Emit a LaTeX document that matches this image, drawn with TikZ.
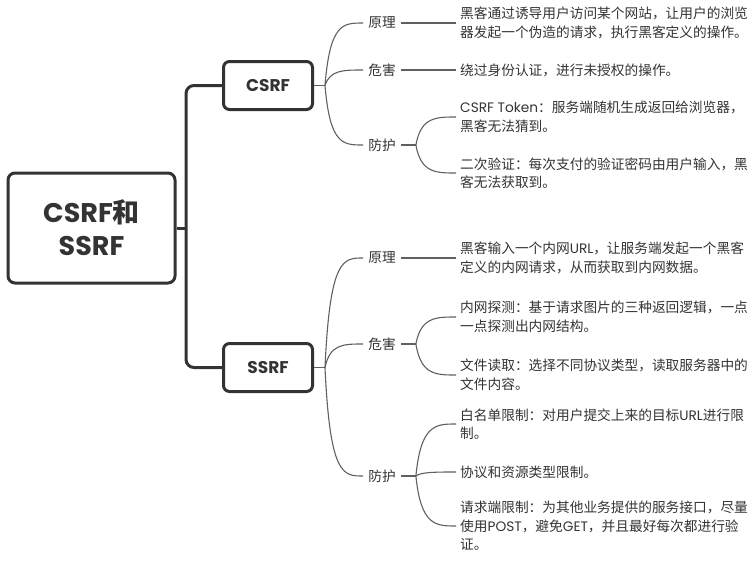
\documentclass[tikz,border=0pt]{standalone}
\usepackage{fontspec}
\setmainfont{Noto Sans CJK SC}
\newfontfamily\latfont{Poppins}
\newcommand{\lat}[1]{{\latfont #1}}
\usetikzlibrary{positioning}
\definecolor{ink}{HTML}{333333}
\definecolor{wire}{HTML}{606060}
\tikzset{
        % Central topic
        node_root/.style={draw=ink, text=ink, line width=3pt, rounded corners=7pt, align=center,
            minimum width=167pt, minimum height=110pt, font=\fontsize{27}{33}\selectfont\bfseries},
        % Main topics
        node_topic/.style={draw=ink, text=ink, line width=3pt, rounded corners=6pt,
            minimum width=89pt, minimum height=48pt, font=\fontsize{17}{20}\selectfont\bfseries},
        % Sub topics
        node_label/.style={text=ink, inner xsep=5pt, inner ysep=2pt, font=\fontsize{13.7}{18.5}\selectfont},
        % Detail texts
        node_detail/.style={text=ink, anchor=west, align=left, inner xsep=4pt, inner ysep=1pt,
            font=\fontsize{13.7}{18.5}\selectfont},
        trunk/.style={draw=ink, line width=3pt},
        branch/.style={draw=wire, line width=1.1pt},
        curve/.style={to path={.. controls ([xshift=5pt]\tikztostart |- \tikztotarget)
            and ([xshift=-20pt]\tikztotarget) .. (\tikztotarget)}}
}
\begin{document}
\begin{tikzpicture}[x=1pt, y=-1pt]
    \useasboundingbox (0,0) rectangle (756,563);
    % topics
    \node[node_root] (root) at (91.5,228) {\lat{CSRF}和\\\lat{SSRF}};
    \node[node_topic] (csrf) at (268,85.5) {\lat{CSRF}};
    \node[node_topic] (ssrf) at (268,367.5) {\lat{SSRF}};
    \coordinate (jn) at (186,228);
    \draw[trunk] (root.east) -- (jn);
    \draw[trunk, rounded corners=8pt] (csrf.west) -| (jn) |- (ssrf.west);

    % CSRF
    \node[node_label] (csrf_yl) at (382,23) {原理};
    \node[node_label] (csrf_wh) at (382,70) {危害};
    \node[node_label] (csrf_fh) at (382,145) {防护};
    \node[node_detail] (csrf_yl_d) at (456,23) {黑客通过诱导用户访问某个网站，让用户的浏览\\器发起一个伪造的请求，执行黑客定义的操作。};
    \node[node_detail] (csrf_wh_d) at (456,70) {绕过身份认证，进行未授权的操作。};
    \node[node_detail] (csrf_fh_a) at (456,117) {\lat{CSRF Token}：服务端随机生成返回给浏览器，\\黑客无法猜到。};
    \node[node_detail] (csrf_fh_b) at (456,173) {二次验证：每次支付的验证密码由用户输入，黑\\客无法获取到。};

    % SSRF
    \node[node_label] (ssrf_yl) at (382,258) {原理};
    \node[node_label] (ssrf_wh) at (382,344) {危害};
    \node[node_label] (ssrf_fh) at (382,476) {防护};
    \node[node_detail] (ssrf_yl_d) at (456,258) {黑客输入一个内网\lat{URL}，让服务端发起一个黑客\\定义的内网请求，从而获取到内网数据。};
    \node[node_detail] (ssrf_wh_a) at (456,317) {内网探测：基于请求图片的三种返回逻辑，一点\\一点探测出内网结构。};
    \node[node_detail] (ssrf_wh_b) at (456,375) {文件读取：选择不同协议类型，读取服务器中的\\文件内容。};
    \node[node_detail] (ssrf_fh_a) at (456,424) {白名单限制：对用户提交上来的目标\lat{URL}进行限\\制。};
    \node[node_detail] (ssrf_fh_b) at (456,472) {协议和资源类型限制。};
    \node[node_detail] (ssrf_fh_c) at (456,526) {请求端限制：为其他业务提供的服务接口，尽量\\使用\lat{POST}，避免\lat{GET}，并且最好每次都进行验\\证。};

    % branches
    \foreach \m in {csrf,ssrf} {
        \coordinate (\m_j) at ([xshift=11pt]\m.east);
        \draw[branch] (\m.east) -- (\m_j);
        \foreach \s in {yl,wh,fh}
            \draw[branch] (\m_j) to[curve] (\m_\s.west);
    }
    \draw[branch] (csrf_yl.east) -- (csrf_yl_d.west);
    \draw[branch] (csrf_wh.east) -- (csrf_wh_d.west);
    \draw[branch] (ssrf_yl.east) -- (ssrf_yl_d.west);
    \coordinate (csrf_fh_j) at ([xshift=15pt]csrf_fh.east);
    \coordinate (ssrf_wh_j) at ([xshift=15pt]ssrf_wh.east);
    \coordinate (ssrf_fh_j) at ([xshift=15pt]ssrf_fh.east);
    \draw[branch] (csrf_fh.east) -- (csrf_fh_j);
    \draw[branch] (ssrf_wh.east) -- (ssrf_wh_j);
    \draw[branch] (ssrf_fh.east) -- (ssrf_fh_j);
    \foreach \s in {a,b}
        \draw[branch] (csrf_fh_j) to[curve] (csrf_fh_\s.west);
    \foreach \s in {a,b}
        \draw[branch] (ssrf_wh_j) to[curve] (ssrf_wh_\s.west);
    \foreach \s in {a,b,c}
        \draw[branch] (ssrf_fh_j) to[curve] (ssrf_fh_\s.west);
\end{tikzpicture}
\end{document}
